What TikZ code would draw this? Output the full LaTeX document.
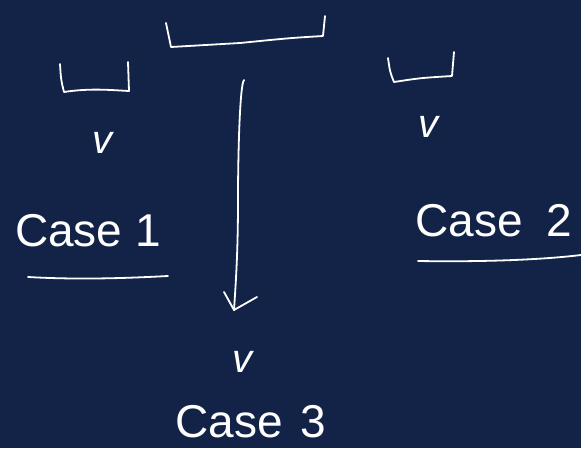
\documentclass[tikz,border=0pt]{standalone}
\usepackage{fontspec}
\setmainfont{Liberation Sans}
\definecolor{navy}{RGB}{19,35,72}
\begin{document}
\begin{tikzpicture}[x=1pt,y=-1pt,
  ink/.style={draw=white,line width=1.8pt,line cap=round,line join=round},
  lbl/.style={text=white,font=\fontsize{46}{50}\selectfont,inner sep=0pt,anchor=base},
  vlbl/.style={text=white,font=\fontsize{40}{44}\selectfont\itshape,inner sep=0pt}]
\fill[navy] (0,0) rectangle (581,448);
\useasboundingbox (0,0) rectangle (581,448);
% brackets
\draw[ink] (166,23) .. controls (168,35) .. (171,47) -- (240,43) .. controls (290,38) .. (323,36) -- (325,16);
\draw[ink] (60,64) .. controls (61,80) .. (64,92) .. controls (90,88) and (110,90) .. (129,91) -- (128,62);
\draw[ink] (388,58) .. controls (390,72) .. (394,82) .. controls (420,78) .. (452,76) -- (454,52);
% v labels
\node[vlbl] (v1) at (102,143) {v};
\node[vlbl] (v2) at (428,127) {v};
\node[vlbl] (v3) at (242,362) {v};
% case labels
\node[lbl] (c1) at (88,246) {Case 1};
\node[lbl] (c2) at (494,236) {Case\hspace{24pt}2};
\node[lbl] (c3) at (251,437) {Case\hspace{18pt}3};
% underlines
\coordinate (u1a) at (28,277); \coordinate (u1b) at (168,276);
\coordinate (u2a) at (418,261); \coordinate (u2b) at (581,255);
\draw[ink] (u1a) .. controls (80,280) and (130,278) .. (u1b);
\draw[ink] (u2a) .. controls (480,262) and (540,260) .. (u2b);
% arrow
\coordinate (as) at (244,80);
\coordinate (at) at (234,310);
\draw[ink] (as) .. controls (240,84) and (238,150) .. (238,200) .. controls (238,250) and (236,280) .. (at);
\draw[ink] (224,292) -- (at) -- (257,297);
\end{tikzpicture}
\end{document}
